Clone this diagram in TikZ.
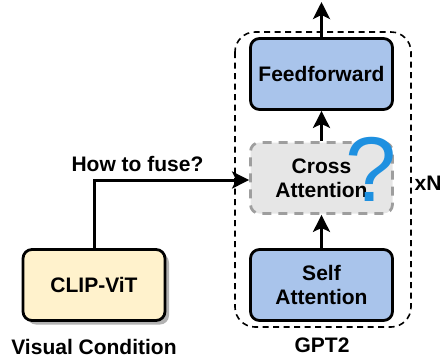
\documentclass[tikz,border=0pt]{standalone}
\usepackage{fontspec}
\setmainfont{Liberation Sans}
\usetikzlibrary{arrows.meta,shadows}
\definecolor{blockblue}{HTML}{A9C4EB}
\definecolor{blockyellow}{HTML}{FFF2CC}
\definecolor{blockgray}{HTML}{E6E6E6}
\definecolor{dashgray}{HTML}{9E9E9E}
\definecolor{qblue}{HTML}{1E90E0}
\tikzset{
  every node/.style={font=\fontsize{21}{24}\selectfont\bfseries},
  block/.style={draw=black, line width=2.8pt, rounded corners=9pt, minimum width=142pt, minimum height=71pt, align=center, inner sep=0pt},
  arr/.style={line width=3pt, -{Stealth[length=17pt,width=17pt,inset=4pt]}},
  outerbox/.style={draw=black, line width=1.6pt, dash pattern=on 6pt off 4.5pt, rounded corners=20pt},
}
\begin{document}
\begin{tikzpicture}[x=1pt,y=-1pt]
\useasboundingbox (0,0) rectangle (440,360);
% outer dashed GPT2 frame
\draw[outerbox] (235,32) rectangle (411,327);
% blocks
\node[block, fill=blockblue] (ff) at (321.5,74) {Feedforward};
\node[block, fill=blockgray, draw=dashgray, dash pattern=on 9pt off 7pt] (ca) at (321.5,178) {Cross\\Attention};
\node[block, fill=blockblue] (sa) at (321.5,285) {Self\\Attention};
\node[block, fill=blockyellow, drop shadow={shadow xshift=4pt, shadow yshift=-4pt, fill=black!30, opacity=1}] (clip) at (94,285) {CLIP-ViT};
% question mark
\node[inner sep=0pt, text=qblue, font=\fontsize{92}{92}\selectfont] (q) at (371,169.5) {?};
% labels
\node (xn) at (428,183) {xN};
\node (gpt) at (322,345) {GPT2};
\node (vc) at (94,347) {Visual Condition};
\coordinate (out) at (321.5,2);
% connectors
\draw[arr] (sa.north) -- (ca.south);
\draw[arr] (ca.north) -- (ff.south);
\draw[arr] (ff.north) -- (out);
\draw[arr] (clip.north) |- node[pos=0.64, above=3pt] (fuse) {How to fuse?} ([yshift=-2pt]ca.west);
\end{tikzpicture}
\end{document}
